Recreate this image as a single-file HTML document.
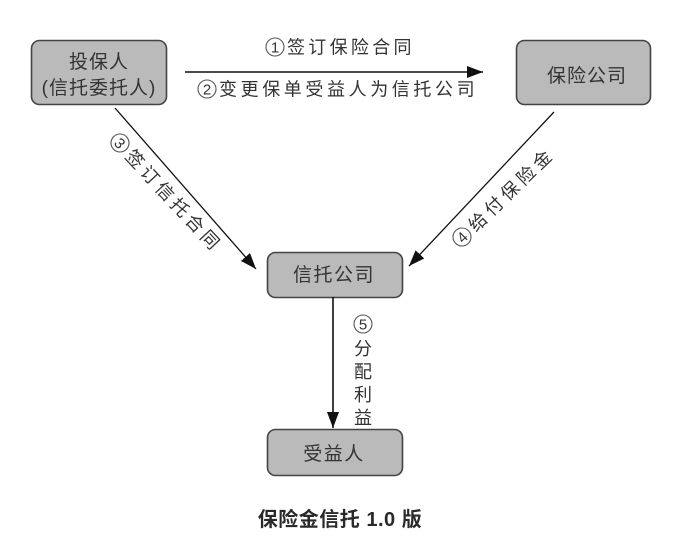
<!DOCTYPE html>
<html><head><meta charset="utf-8"><style>
html,body{margin:0;padding:0;background:#fff;}
svg{display:block;}
text{font-family:"Liberation Sans","Noto Sans CJK SC",sans-serif;fill:#333;}
.d{font-family:"Liberation Sans",sans-serif;font-size:15px;text-anchor:middle;fill:#333;}
.o{fill:none;stroke:#555;stroke-width:1.1;}
</style></head><body>
<svg width="700" height="537" viewBox="0 0 700 537" xmlns="http://www.w3.org/2000/svg">
<defs>
<marker id="ah" markerWidth="16" markerHeight="12" refX="16" refY="6" orient="auto" markerUnits="userSpaceOnUse">
<path d="M0,0 L16,6 L0,12 Z" fill="#111"/>
</marker>
</defs>
<!-- boxes -->
<rect x="31.5" y="40.5" width="135" height="64" rx="8" fill="#bababa" stroke="#444" stroke-width="1.6"/>
<rect x="516.5" y="40.5" width="134" height="64" rx="8" fill="#bababa" stroke="#444" stroke-width="1.6"/>
<rect x="267.5" y="252.5" width="135" height="45" rx="8" fill="#bababa" stroke="#444" stroke-width="1.6"/>
<rect x="267.5" y="429.5" width="135" height="46" rx="8" fill="#bababa" stroke="#444" stroke-width="1.6"/>
<!-- box text -->
<text x="99" y="68" font-size="19" text-anchor="middle" letter-spacing="1">投保人</text>
<text x="99" y="94" font-size="19" text-anchor="middle" letter-spacing="1">(信托委托人)</text>
<text x="587" y="82" font-size="19" text-anchor="middle" letter-spacing="1">保险公司</text>
<text x="334" y="281" font-size="19" text-anchor="middle" letter-spacing="1.5">信托公司</text>
<text x="334" y="460" font-size="19" text-anchor="middle" letter-spacing="1.5">受益人</text>
<!-- horizontal arrow -->
<line x1="185" y1="72" x2="483" y2="72" stroke="#111" stroke-width="1.6" marker-end="url(#ah)"/>
<circle class="o" cx="275" cy="47" r="9"/>
<text class="d" x="275" y="52.5">1</text>
<text x="287" y="53.5" font-size="18" letter-spacing="3.3">签订保险合同</text>
<circle class="o" cx="207" cy="89" r="9"/>
<text class="d" x="207" y="94.5">2</text>
<text x="219" y="95.5" font-size="18" letter-spacing="3.6">变更保单受益人为信托公司</text>
<!-- diagonal 3 -->
<line x1="115" y1="108" x2="256" y2="269" stroke="#111" stroke-width="1.3" marker-end="url(#ah)"/>
<g transform="translate(120,143) rotate(47)">
<circle class="o" cx="0" cy="0" r="9"/>
<text class="d" x="0" y="5.5">3</text>
<text x="13" y="6.5" font-size="18" letter-spacing="4">签订信托合同</text>
</g>
<!-- diagonal 4 -->
<line x1="554" y1="112" x2="409" y2="266" stroke="#111" stroke-width="1.3" marker-end="url(#ah)"/>
<g transform="translate(462,237) rotate(-44)">
<circle class="o" cx="0" cy="0" r="9"/>
<text class="d" x="0" y="5.5">4</text>
<text x="13" y="6.5" font-size="18" letter-spacing="4.3">给付保险金</text>
</g>
<!-- vertical 5 -->
<line x1="333" y1="297" x2="333" y2="428" stroke="#111" stroke-width="1.6" marker-end="url(#ah)"/>
<circle class="o" cx="363" cy="324" r="9"/>
<text class="d" x="363" y="329.5">5</text>
<text x="363" y="355" font-size="18" text-anchor="middle">分</text>
<text x="363" y="378" font-size="18" text-anchor="middle">配</text>
<text x="363" y="401" font-size="18" text-anchor="middle">利</text>
<text x="363" y="424" font-size="18" text-anchor="middle">益</text>
<!-- caption -->
<text x="340" y="526" font-size="20" text-anchor="middle" font-weight="bold" letter-spacing="0.5" style="fill:#2a2a2a">保险金信托 1.0 版</text>
</svg>
</body></html>
